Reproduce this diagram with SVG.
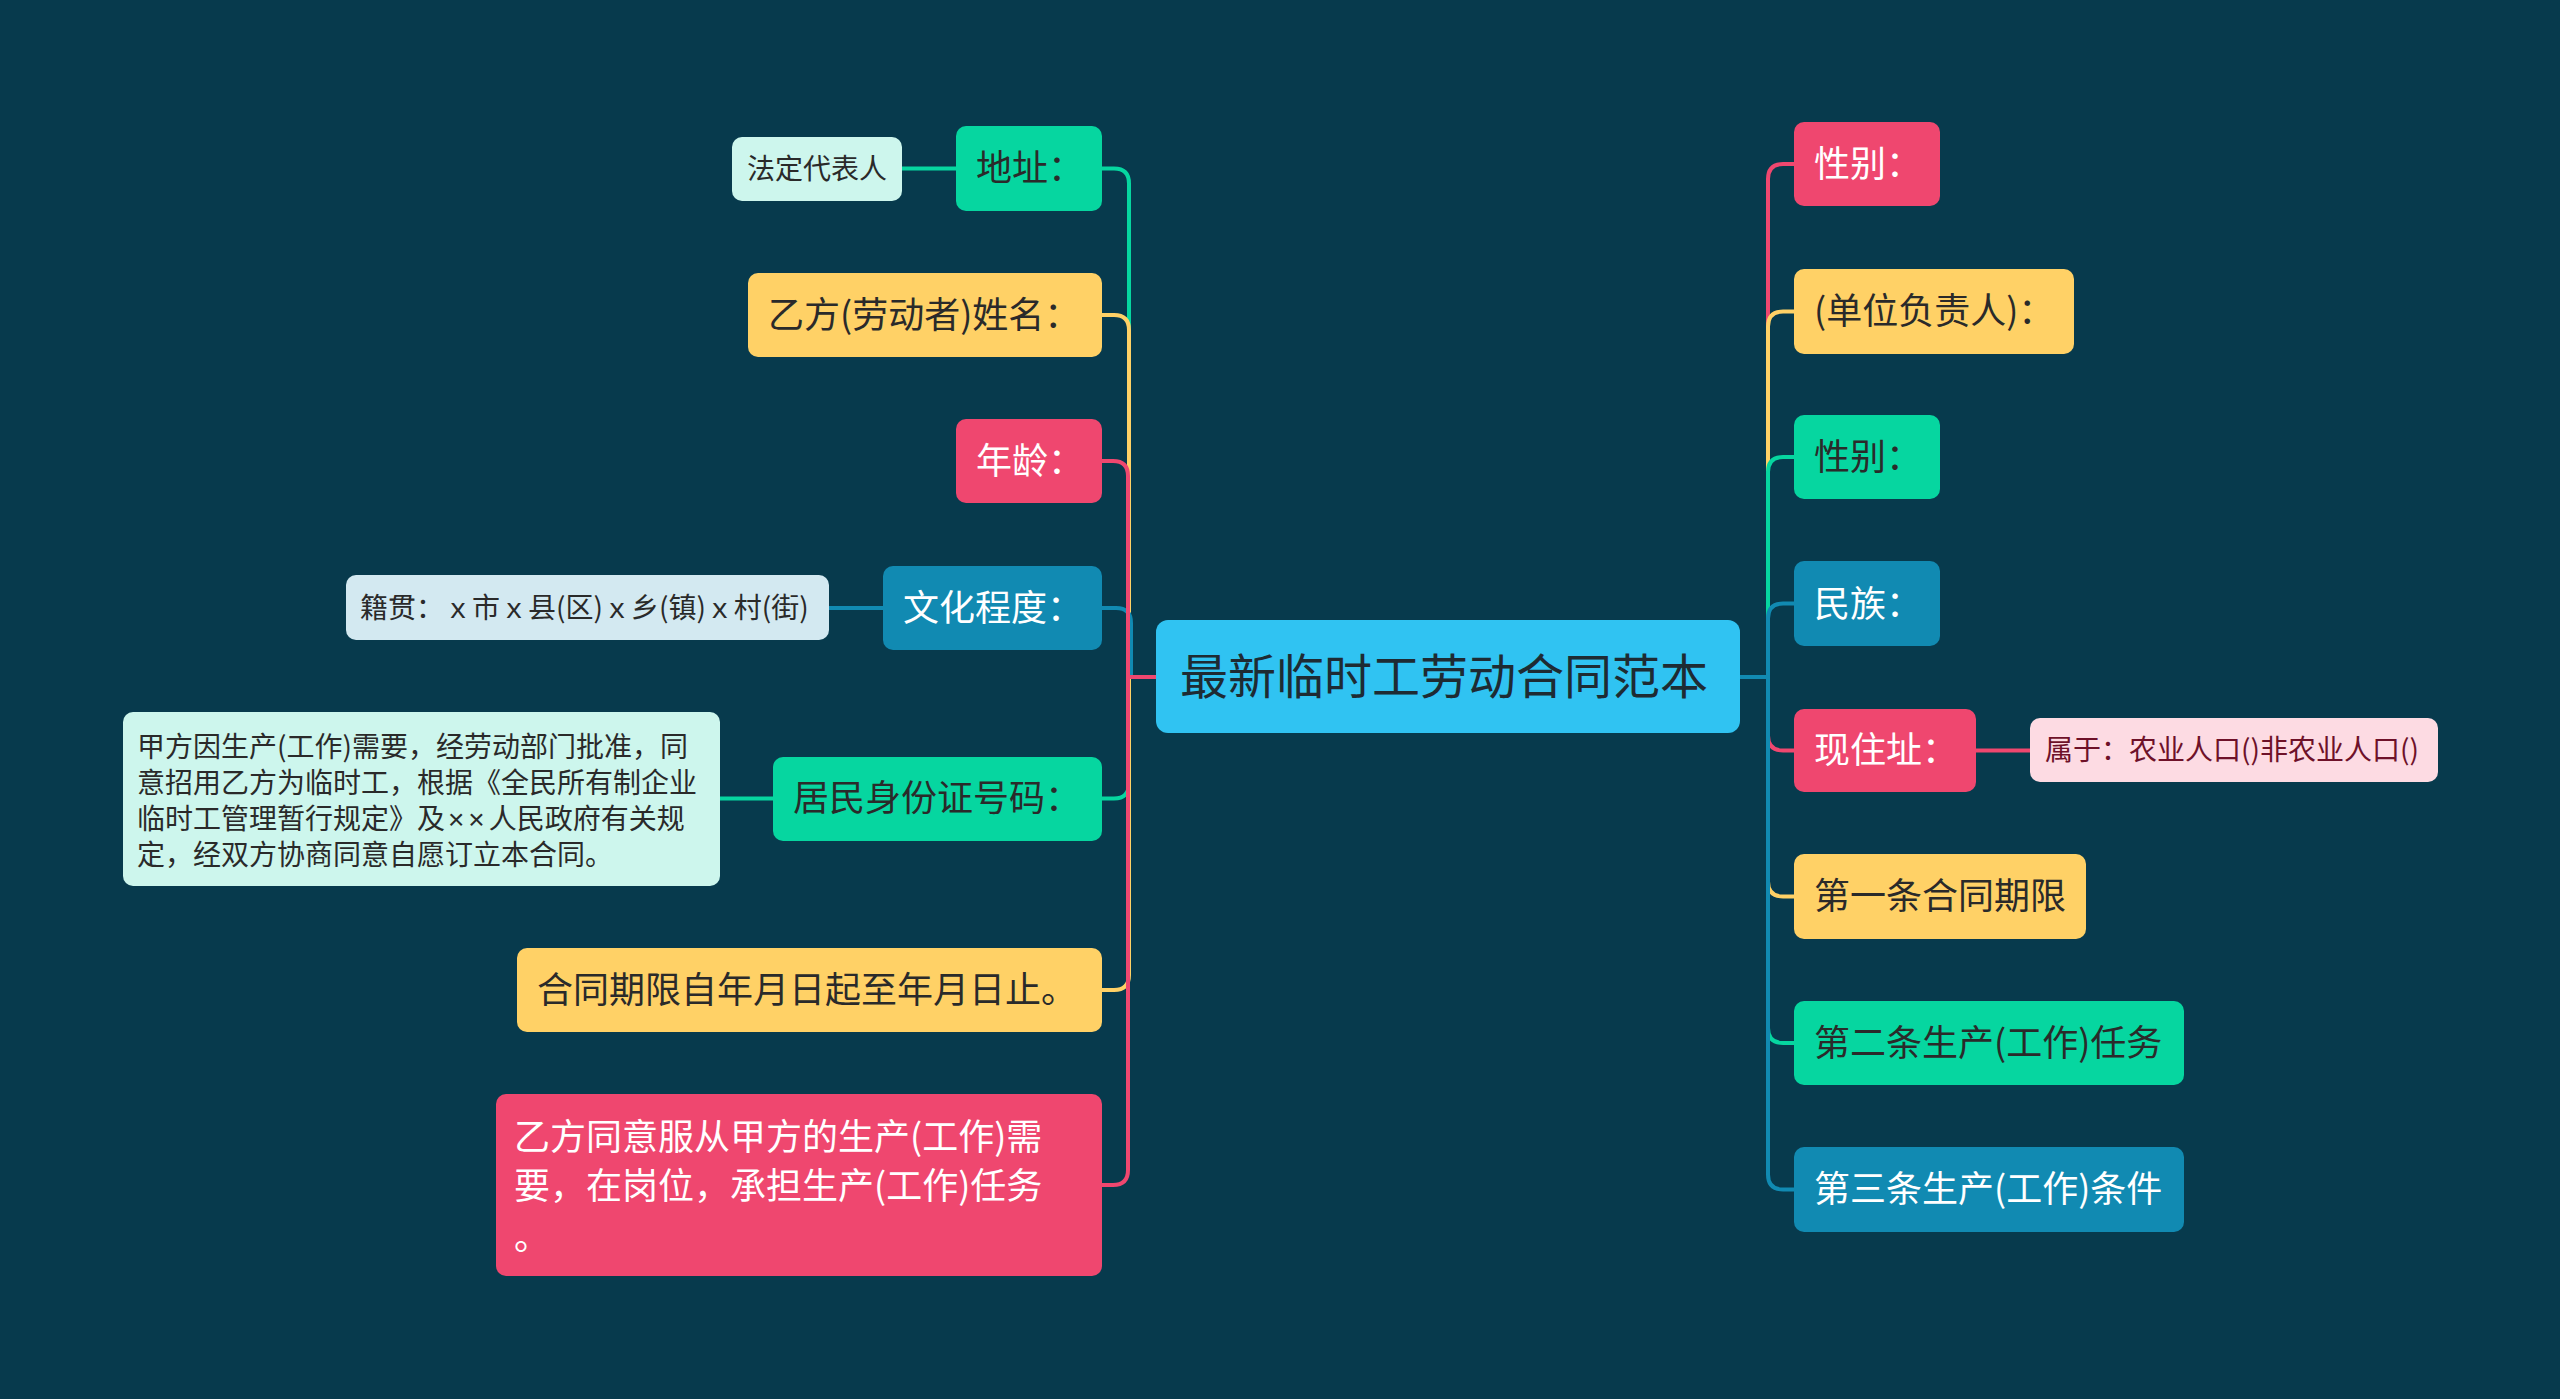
<svg xmlns="http://www.w3.org/2000/svg" width="2560" height="1399" viewBox="0 0 2560 1399">
<style>
text{font-family:"Noto Sans CJK SC","Noto Sans",sans-serif;}
.t48{font-size:48px;fill:#1e2b33;}
.t36{font-size:36px;}
.t28{font-size:28px;}
.dk{fill:#2a2a2a;}
.wh{fill:#ffffff;}
.lat{font-family:"Liberation Sans",sans-serif;letter-spacing:4px;}
.c{fill:none;stroke-width:4;stroke-linecap:round;stroke-linejoin:round;}
.g{fill:#06d6a0;} .y{fill:#ffd166;} .r{fill:#ef476f;} .b{fill:#118ab2;}
.sg{stroke:#06d6a0;} .sy{stroke:#ffd166;} .sr{stroke:#ef476f;} .sb{stroke:#118ab2;}
</style>
<rect x="0" y="0" width="2560" height="1399" fill="#073a4d"/>
<g id="connectors">
  <path class="c sg" d="M1156,677 H1129 V783.5 Q1129,798.5 1114,798.5 H1102"/>
  <path class="c sy" d="M1156,677 H1129 V975 Q1129,990 1114,990 H1102"/>
  <path class="c sg" d="M1156,677 H1129 V183.5 Q1129,168.5 1114,168.5 H1102"/>
  <path class="c sy" d="M1156,677 H1129 V330 Q1129,315 1114,315 H1102"/>
  <path class="c sb" d="M1156,677 H1131 V623 Q1131,608 1116,608 H1102"/>
  <path class="c sr" d="M1156,677 H1128 V476 Q1128,461 1113,461 H1102"/>
  <path class="c sr" d="M1156,677 H1128 V1170 Q1128,1185 1113,1185 H1102"/>
  <path class="c sg" d="M902,168.5 H956"/>
  <path class="c sb" d="M829,608 H883"/>
  <path class="c sg" d="M720,798.5 H773"/>
  <path class="c sr" d="M1740,677 H1768 V735.5 Q1768,750.5 1783,750.5 H1794"/>
  <path class="c sy" d="M1740,677 H1768 V881.5 Q1768,896.5 1783,896.5 H1794"/>
  <path class="c sg" d="M1740,677 H1768 V1028 Q1768,1043 1783,1043 H1794"/>
  <path class="c sr" d="M1740,677 H1768 V179 Q1768,164 1783,164 H1794"/>
  <path class="c sy" d="M1740,677 H1768 V326.5 Q1768,311.5 1783,311.5 H1794"/>
  <path class="c sg" d="M1740,677 H1768 V472 Q1768,457 1783,457 H1794"/>
  <path class="c sb" d="M1740,677 H1768 V618.5 Q1768,603.5 1783,603.5 H1794"/>
  <path class="c sb" d="M1740,677 H1768 V1174.5 Q1768,1189.5 1783,1189.5 H1794"/>
  <path class="c sr" d="M1976,750.5 H2030"/>
</g>
<g id="center">
  <rect x="1156" y="620" width="584" height="113" rx="12" fill="#30c3f2"/>
  <text class="t48" x="1180" y="694">最新临时工劳动合同范本</text>
</g>
<g id="n-dizhi">
  <rect class="g" x="956" y="126" width="146" height="85" rx="10"/>
  <text class="t36 dk" x="976" y="181">地址：</text>
</g>
<g id="n-fading">
  <rect x="732" y="137" width="170" height="64" rx="10" fill="#cdf6ed"/>
  <text class="t28 dk" x="747" y="179">法定代表人</text>
</g>
<g id="n-yifang">
  <rect class="y" x="748" y="273" width="354" height="84" rx="10"/>
  <text class="t36 dk" x="768" y="328">乙方(劳动者)姓名：</text>
</g>
<g id="n-nianling">
  <rect class="r" x="956" y="419" width="146" height="84" rx="10"/>
  <text class="t36 wh" x="976" y="474">年龄：</text>
</g>
<g id="n-wenhua">
  <rect class="b" x="883" y="566" width="219" height="84" rx="10"/>
  <text class="t36 wh" x="903" y="621">文化程度：</text>
</g>
<g id="n-jiguan">
  <rect x="346" y="575" width="483" height="65" rx="10" fill="#d3e9f1"/>
  <text class="t28 dk" x="360" y="618">籍贯：ｘ市ｘ县(区)ｘ乡(镇)ｘ村(街)</text>
</g>
<g id="n-jumin">
  <rect class="g" x="773" y="757" width="329" height="84" rx="10"/>
  <text class="t36 dk" x="793" y="811">居民身份证号码：</text>
</g>
<g id="n-jiafang">
  <rect x="123" y="712" width="597" height="174" rx="10" fill="#cdf6ed"/>
  <text class="t28 dk" x="137" y="757">甲方因生产(工作)需要，经劳动部门批准，同</text>
  <text class="t28 dk" x="137" y="793">意招用乙方为临时工，根据《全民所有制企业</text>
  <text class="t28 dk" x="137" y="829">临时工管理暂行规定》及<tspan class="lat" dx="3">××</tspan>人民政府有关规</text>
  <text class="t28 dk" x="137" y="865">定，经双方协商同意自愿订立本合同。</text>
</g>
<g id="n-hetong">
  <rect class="y" x="517" y="948" width="585" height="84" rx="10"/>
  <text class="t36 dk" x="537" y="1003">合同期限自年月日起至年月日止。</text>
</g>
<g id="n-fucong">
  <rect class="r" x="496" y="1094" width="606" height="182" rx="10"/>
  <text class="t36 wh" x="514" y="1150">乙方同意服从甲方的生产(工作)需</text>
  <text class="t36 wh" x="514" y="1199">要，在岗位，承担生产(工作)任务</text>
  <text class="t36 wh" x="514" y="1250">。</text>
</g>
<g id="n-xingbie1">
  <rect class="r" x="1794" y="122" width="146" height="84" rx="10"/>
  <text class="t36 wh" x="1814" y="177">性别：</text>
</g>
<g id="n-danwei">
  <rect class="y" x="1794" y="269" width="280" height="85" rx="10"/>
  <text class="t36 dk" x="1814" y="324">(单位负责人)：</text>
</g>
<g id="n-xingbie2">
  <rect class="g" x="1794" y="415" width="146" height="84" rx="10"/>
  <text class="t36 dk" x="1814" y="470">性别：</text>
</g>
<g id="n-minzu">
  <rect class="b" x="1794" y="561" width="146" height="85" rx="10"/>
  <text class="t36 wh" x="1814" y="617">民族：</text>
</g>
<g id="n-xianzhuzhi">
  <rect class="r" x="1794" y="709" width="182" height="83" rx="10"/>
  <text class="t36 wh" x="1814" y="763">现住址：</text>
</g>
<g id="n-shuyu">
  <rect x="2030" y="718" width="408" height="64" rx="10" fill="#fddbe3"/>
  <text class="t28" x="2045" y="760" fill="#6e1129">属于：农业人口()非农业人口()</text>
</g>
<g id="n-diyi">
  <rect class="y" x="1794" y="854" width="292" height="85" rx="10"/>
  <text class="t36 dk" x="1814" y="909">第一条合同期限</text>
</g>
<g id="n-dier">
  <rect class="g" x="1794" y="1001" width="390" height="84" rx="10"/>
  <text class="t36 dk" x="1814" y="1056">第二条生产(工作)任务</text>
</g>
<g id="n-disan">
  <rect class="b" x="1794" y="1147" width="390" height="85" rx="10"/>
  <text class="t36 wh" x="1814" y="1202">第三条生产(工作)条件</text>
</g>
</svg>
